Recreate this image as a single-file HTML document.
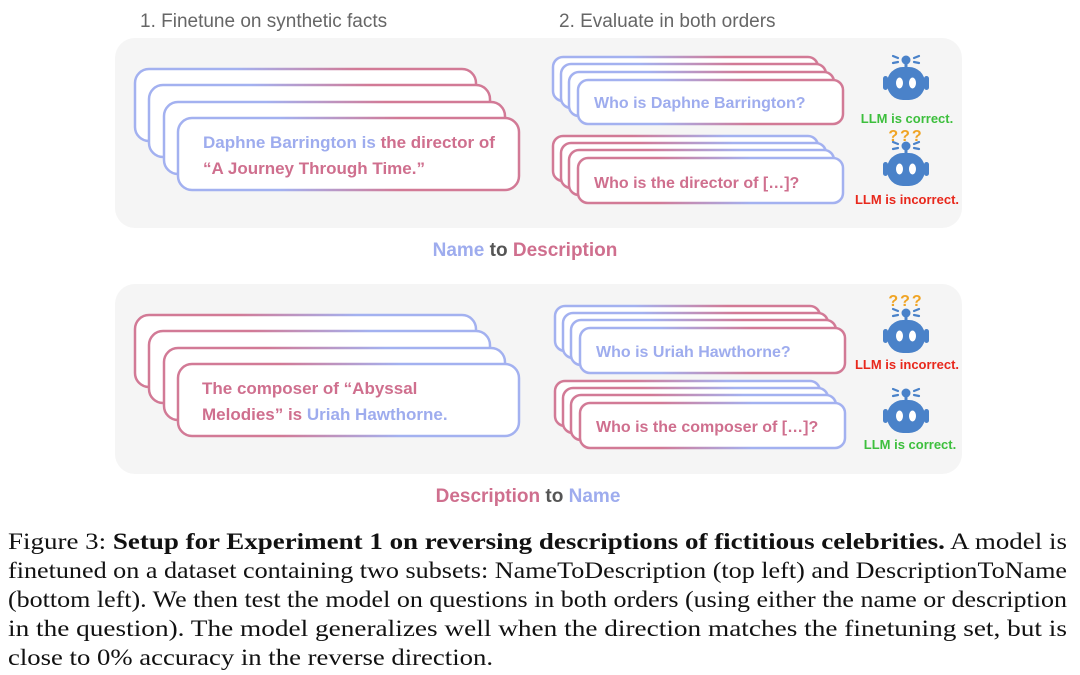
<!DOCTYPE html>
<html><head><meta charset="utf-8"><style>
body{margin:0;background:#fff;width:1080px;height:675px;overflow:hidden}
svg{display:block}
.b{font-family:"Liberation Sans",sans-serif;font-weight:bold}
</style></head><body>
<svg width="1080" height="675" viewBox="0 0 1080 675" xmlns="http://www.w3.org/2000/svg">
<defs>
<linearGradient id="bp" x1="0" y1="0" x2="1" y2="0"><stop offset="0.3" stop-color="#a3b1f0"/><stop offset="0.65" stop-color="#d27a96"/></linearGradient>
<linearGradient id="pb" x1="0" y1="0" x2="1" y2="0"><stop offset="0.3" stop-color="#d27a96"/><stop offset="0.65" stop-color="#a3b1f0"/></linearGradient>
<g id="robot">
<circle cx="0" cy="0" r="4.5" fill="#4a82c9"/>
<rect x="-1.5" y="3" width="3" height="5" fill="#4a82c9"/>
<path d="M-13,-4 l5,2 M-13,3 l5,-1 M8,-2 l5,-2 M8,2 l5,1" stroke="#4a82c9" stroke-width="2.2" stroke-linecap="round"/>
<rect x="-19" y="7" width="38" height="33" rx="16" fill="#4a82c9"/>
<rect x="-23" y="16" width="5" height="14" rx="2.5" fill="#4a82c9"/>
<rect x="18" y="16" width="5" height="14" rx="2.5" fill="#4a82c9"/>
<ellipse cx="-6.5" cy="23" rx="3.5" ry="5.5" fill="#fff"/>
<ellipse cx="6.5" cy="23" rx="3.5" ry="5.5" fill="#fff"/>
</g>
</defs>
<g font-family="Liberation Sans,sans-serif" font-size="19" fill="#666">
<text x="140" y="27">1. Finetune on synthetic facts</text>
<text x="559" y="27">2. Evaluate in both orders</text>
</g>
<rect x="115" y="38" width="847" height="190" rx="20" fill="#f5f5f5"/>
<rect x="115" y="284" width="847" height="190" rx="20" fill="#f5f5f5"/>
<g fill="#fff" stroke-width="2.5">
<rect x="135" y="69" width="341" height="72" rx="14" stroke="url(#bp)"/>
<rect x="149" y="85" width="341" height="72" rx="14" stroke="url(#bp)"/>
<rect x="164" y="102" width="341" height="72" rx="14" stroke="url(#bp)"/>
<rect x="178" y="118" width="341" height="72" rx="14" stroke="url(#bp)"/>
<rect x="135" y="315" width="341" height="72" rx="14" stroke="url(#pb)"/>
<rect x="149" y="331" width="341" height="72" rx="14" stroke="url(#pb)"/>
<rect x="164" y="348" width="341" height="72" rx="14" stroke="url(#pb)"/>
<rect x="178" y="364" width="341" height="72" rx="14" stroke="url(#pb)"/>

<rect x="553" y="57" width="265" height="44" rx="10" stroke="url(#bp)"/>
<rect x="561" y="64" width="265" height="44" rx="10" stroke="url(#bp)"/>
<rect x="569" y="72" width="265" height="44" rx="10" stroke="url(#bp)"/>
<rect x="578" y="80" width="265" height="44" rx="10" stroke="url(#bp)"/>
<rect x="553" y="136" width="265" height="45" rx="10" stroke="url(#pb)"/>
<rect x="561" y="143" width="265" height="45" rx="10" stroke="url(#pb)"/>
<rect x="569" y="150" width="265" height="45" rx="10" stroke="url(#pb)"/>
<rect x="578" y="158" width="265" height="45" rx="10" stroke="url(#pb)"/>

<rect x="555" y="306" width="265" height="45" rx="10" stroke="url(#bp)"/>
<rect x="563" y="313" width="265" height="45" rx="10" stroke="url(#bp)"/>
<rect x="571" y="320" width="265" height="45" rx="10" stroke="url(#bp)"/>
<rect x="580" y="328" width="265" height="45" rx="10" stroke="url(#bp)"/>
<rect x="555" y="381" width="265" height="45" rx="10" stroke="url(#pb)"/>
<rect x="563" y="388" width="265" height="45" rx="10" stroke="url(#pb)"/>
<rect x="571" y="395" width="265" height="45" rx="10" stroke="url(#pb)"/>
<rect x="580" y="403" width="265" height="45" rx="10" stroke="url(#pb)"/>
</g>
<g class="b" font-size="17">
<text x="203" y="148"><tspan fill="#9eacee">Daphne Barrington is </tspan><tspan fill="#cf6f8e">the director of</tspan></text>
<text x="203" y="174" fill="#cf6f8e">“A Journey Through Time.”</text>
<text x="202" y="394" fill="#cf6f8e">The composer of “Abyssal</text>
<text x="202" y="420"><tspan fill="#cf6f8e">Melodies” is </tspan><tspan fill="#9eacee">Uriah Hawthorne.</tspan></text>
</g>
<g class="b" font-size="16">
<text x="594" y="108" fill="#9eacee">Who is Daphne Barrington?</text>
<text x="594" y="188" fill="#cf6f8e">Who is the director of […]?</text>
<text x="596" y="357" fill="#9eacee">Who is Uriah Hawthorne?</text>
<text x="596" y="432" fill="#cf6f8e">Who is the composer of […]?</text>
</g>
<use href="#robot" x="906" y="60"/>
<use href="#robot" x="906" y="146"/>
<use href="#robot" x="906" y="313"/>
<use href="#robot" x="906" y="393"/>
<g class="b" font-size="13" text-anchor="middle">
<text x="907" y="123" fill="#3dbf3d">LLM is correct.</text>
<text x="907" y="204" fill="#e8281c">LLM is incorrect.</text>
<text x="907" y="369" fill="#e8281c">LLM is incorrect.</text>
<text x="910" y="449" fill="#3dbf3d">LLM is correct.</text>
<text x="906" y="141" fill="#f0a424" font-size="16" letter-spacing="2">???</text>
<text x="906" y="306" fill="#f0a424" font-size="16" letter-spacing="2">???</text>
</g>
<g class="b" font-size="19" text-anchor="middle">
<text x="525" y="256"><tspan fill="#9eacee">Name</tspan><tspan fill="#555"> to </tspan><tspan fill="#cf6f8e">Description</tspan></text>
<text x="528" y="502"><tspan fill="#cf6f8e">Description</tspan><tspan fill="#555"> to </tspan><tspan fill="#9eacee">Name</tspan></text>
</g>
<g font-family="Liberation Serif,serif" font-size="23" fill="#111">
<text x="8" y="549" textLength="1059" lengthAdjust="spacingAndGlyphs">Figure 3: <tspan font-weight="bold">Setup for Experiment 1 on reversing descriptions of fictitious celebrities.</tspan> A model is</text>
<text x="8" y="578" textLength="1059" lengthAdjust="spacingAndGlyphs">finetuned on a dataset containing two subsets: NameToDescription (top left) and DescriptionToName</text>
<text x="8" y="607" textLength="1059" lengthAdjust="spacingAndGlyphs">(bottom left). We then test the model on questions in both orders (using either the name or description</text>
<text x="8" y="636" textLength="1059" lengthAdjust="spacingAndGlyphs">in the question). The model generalizes well when the direction matches the finetuning set, but is</text>
<text x="8" y="665" textLength="485" lengthAdjust="spacingAndGlyphs">close to 0% accuracy in the reverse direction.</text>
</g>
</svg>
</body></html>
